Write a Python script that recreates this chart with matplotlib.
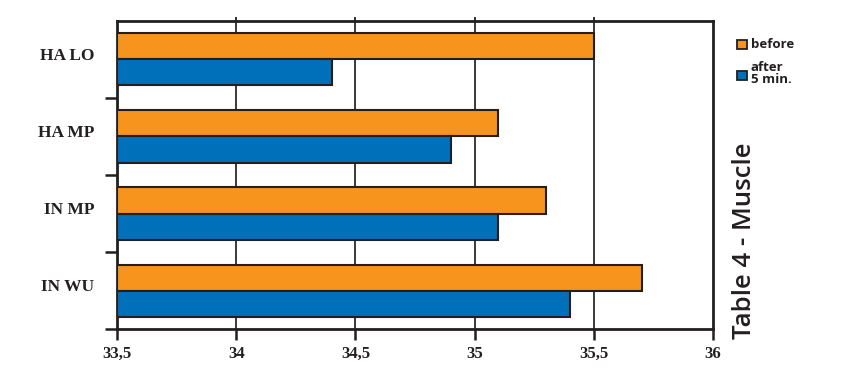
import matplotlib
matplotlib.use('Agg')
import numpy as np
import matplotlib.pyplot as plt
from matplotlib.patches import Rectangle
from matplotlib.transforms import ScaledTranslation

# ── data ──────────────────────────────────────────────────────────────────────
categories = ["HA LO", "HA MP", "IN MP", "IN WU"]
before = [35.5, 35.1, 35.3, 35.7]
after = [34.4, 34.9, 35.1, 35.4]
x_ticks = [33.5, 34, 34.5, 35, 35.5, 36]
x_labels = ["33,5", "34", "34,5", "35", "35,5", "36"]

orange = "#F7941D"
blue = "#0070BA"
edge = "#231F20"

fig = plt.figure(figsize=(8.52, 3.8), dpi=100)
ax = fig.add_axes([0.1373, 0.134, 0.6996, 0.811])

pos = np.arange(len(categories))
h = 0.338
x0 = 33.5
ax.barh(pos - h / 2, np.array(before) - x0, left=x0, height=h, color=orange,
        edgecolor=edge, linewidth=1.5, zorder=3)
ax.barh(pos + h / 2, np.array(after) - x0, left=x0, height=h, color=blue,
        edgecolor=edge, linewidth=1.5, zorder=3)

ax.set_xlim(33.5, 36)
ax.set_ylim(len(categories) - 0.5, -0.5)

# grid lines
for g in x_ticks[1:-1]:
    ax.axvline(g, color="#2b2b2b", lw=1.3, zorder=1)

for s in ax.spines.values():
    s.set_linewidth(2)
    s.set_color(edge)

ax.set_xticks(x_ticks)
ax.set_xticklabels(x_labels, family="Liberation Serif", fontweight="bold",
                   fontsize=12, color=edge)
ax.tick_params(axis="x", direction="out", length=8, width=1.8, color=edge, pad=4)

# small ticks poking above the top frame
top = ax.secondary_xaxis("top")
top.set_xticks(x_ticks[1:-1])
top.tick_params(length=3, width=1.3, color=edge, labeltop=False)
top.spines["top"].set_visible(False)

# group boundary ticks, labels at centres
ax.set_yticks([0.5, 1.5, 2.5, 3.5])
ax.set_yticklabels([])
ax.tick_params(axis="y", which="major", direction="out", length=9, width=1.8, color=edge)
ax.set_yticks(pos, minor=True)
ax.set_yticklabels(categories, minor=True, family="Liberation Serif",
                   fontweight="bold", fontsize=12.5, color=edge)
ax.tick_params(axis="y", which="minor", length=0, pad=16.5)
for lab in ax.get_yticklabels(minor=True):
    lab.set_transform(lab.get_transform() + ScaledTranslation(0, 5.5 / 100, fig.dpi_scale_trans))

# legend
fig.patches.append(Rectangle((0.8645, 0.871), 0.0125, 0.025, transform=fig.transFigure,
                             facecolor=orange, edgecolor=edge, lw=1.3))
fig.patches.append(Rectangle((0.8645, 0.789), 0.0125, 0.025, transform=fig.transFigure,
                             facecolor=blue, edgecolor=edge, lw=1.3))
fig.text(0.881, 0.882, "before", family="Open Sans", fontweight="bold",
         fontsize=9.5, color=edge, va="center")
fig.text(0.881, 0.806, "after\n5 min.", family="Open Sans", fontweight="bold",
         fontsize=9.5, color=edge, va="center", linespacing=0.95)

fig.text(0.8735, 0.108, "Table 4 - Muscle", rotation=90, family="Open Sans",
         fontweight="semibold", fontsize=18.5, color=edge, ha="center", va="bottom")

plt.savefig("out.png", dpi=100)
